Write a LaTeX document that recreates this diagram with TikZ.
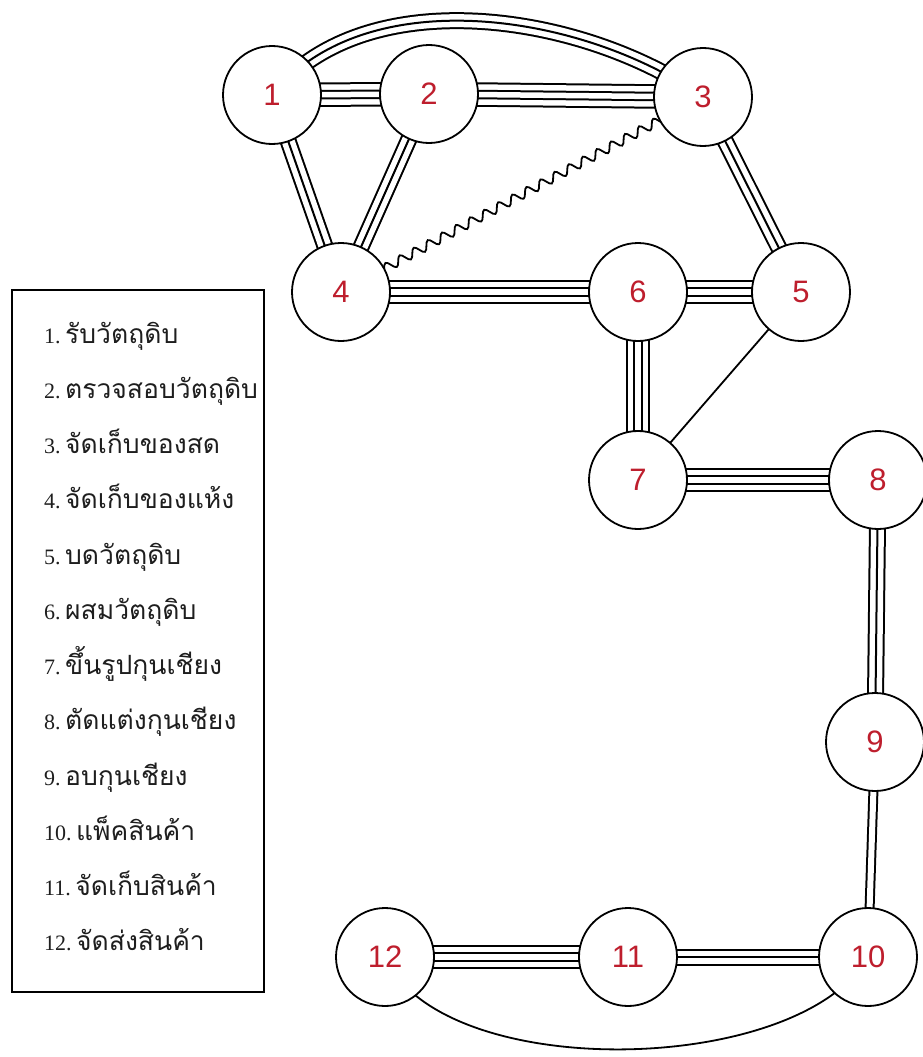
\documentclass[tikz,border=0pt]{standalone}
\usepackage{fontspec}
\newfontfamily\labfont{Liberation Sans}
\newfontfamily\thaifont[Script=Thai]{Loma}
\newfontfamily\numfont{Liberation Serif}
\usetikzlibrary{backgrounds,decorations.pathmorphing}
\definecolor{labred}{RGB}{190,30,45}
\definecolor{legtext}{RGB}{30,30,30}
\tikzset{
 nd/.style={circle, draw=black, line width=1.8pt, fill=white, minimum size=98pt, inner sep=0pt,
   font=\labfont\fontsize{31}{31}\selectfont, text=labred},
 fourline/.style={draw=black, line width=24.5pt,
   postaction={draw=white,line width=20.5pt},
   postaction={draw=black,line width=9.5pt},
   postaction={draw=white,line width=5.5pt}},
 threeline/.style={draw=black, line width=17pt,
   postaction={draw=white,line width=13pt},
   postaction={draw=black,line width=2pt}},
 twoline/.style={draw=black, line width=10pt,
   postaction={draw=white,line width=6pt}},
 oneline/.style={draw=black, line width=1.8pt},
 wavy/.style={draw=black, line width=1.8pt, decorate,
   decoration={snake, amplitude=4.5pt, segment length=16pt}},
 legitem/.style={anchor=base west, inner sep=0pt, text=legtext},
 legbox/.style={draw=black, line width=2pt}
}
\newcommand{\legnum}[1]{{\numfont\fontsize{22}{22}\selectfont #1}}
\newcommand{\legth}[1]{{\thaifont\fontsize{26.5}{26.5}\selectfont #1}}
\begin{document}
\begin{tikzpicture}[x=1pt,y=1pt]
\useasboundingbox (0,0) rectangle (922,-1057);
% nodes
\node[nd] (n1) at (272,-95) {1};
\node[nd] (n2) at (429,-94) {2};
\node[nd] (n3) at (703,-97) {3};
\node[nd] (n4) at (341,-292) {4};
\node[nd] (n6) at (638,-292) {6};
\node[nd] (n5) at (801,-292) {5};
\node[nd] (n7) at (638,-480) {7};
\node[nd] (n8) at (878,-480) {8};
\node[nd] (n9) at (875,-742) {9};
\node[nd] (n10) at (868,-957) {10};
\node[nd] (n11) at (628,-957) {11};
\node[nd] (n12) at (385,-957) {12};
% connectors
\begin{scope}[on background layer]
\draw[threeline] (n1.center) to[out=51,in=145,looseness=0.875] (n3.center);
\draw[fourline] (n1.center) -- (n2.center);
\draw[fourline] (n2.center) -- (n3.center);
\draw[threeline] (n1.center) -- (n4.center);
\draw[threeline] (n2.center) -- (n4.center);
\draw[wavy] (n4.center) -- (n3.center);
\draw[threeline] (n3.center) -- (n5.center);
\draw[fourline] (n4.center) -- (n6.center);
\draw[fourline] (n6.center) -- (n5.center);
\draw[fourline] (n6.center) -- (n7.center);
\draw[oneline] (n5.center) -- (n7.center);
\draw[fourline] (n7.center) -- (n8.center);
\draw[threeline] (n8.center) -- (n9.center);
\draw[twoline] (n9.center) -- (n10.center);
\draw[threeline] (n10.center) -- (n11.center);
\draw[fourline] (n11.center) -- (n12.center);
\draw[oneline] (n12.center) to[out=-66,in=-120,looseness=0.735] (n10.center);
\end{scope}
% legend
\draw[legbox] (12,-290) rectangle (264,-992);
\node[legitem] (l1) at (44,-343) {\legnum{1.} \legth{รับวัตถุดิบ}};
\node[legitem] (l2) at (44,-398) {\legnum{2.} \legth{ตรวจสอบวัตถุดิบ}};
\node[legitem] (l3) at (44,-453) {\legnum{3.} \legth{จัดเก็บของสด}};
\node[legitem] (l4) at (44,-508) {\legnum{4.} \legth{จัดเก็บของแห้ง}};
\node[legitem] (l5) at (44,-564) {\legnum{5.} \legth{บดวัตถุดิบ}};
\node[legitem] (l6) at (44,-619) {\legnum{6.} \legth{ผสมวัตถุดิบ}};
\node[legitem] (l7) at (44,-674) {\legnum{7.} \legth{ขึ้นรูปกุนเชียง}};
\node[legitem] (l8) at (44,-729) {\legnum{8.} \legth{ตัดแต่งกุนเชียง}};
\node[legitem] (l9) at (44,-785) {\legnum{9.} \legth{อบกุนเชียง}};
\node[legitem] (l10) at (44,-840) {\legnum{10.} \legth{แพ็คสินค้า}};
\node[legitem] (l11) at (44,-895) {\legnum{11.} \legth{จัดเก็บสินค้า}};
\node[legitem] (l12) at (44,-950) {\legnum{12.} \legth{จัดส่งสินค้า}};
\end{tikzpicture}
\end{document}
